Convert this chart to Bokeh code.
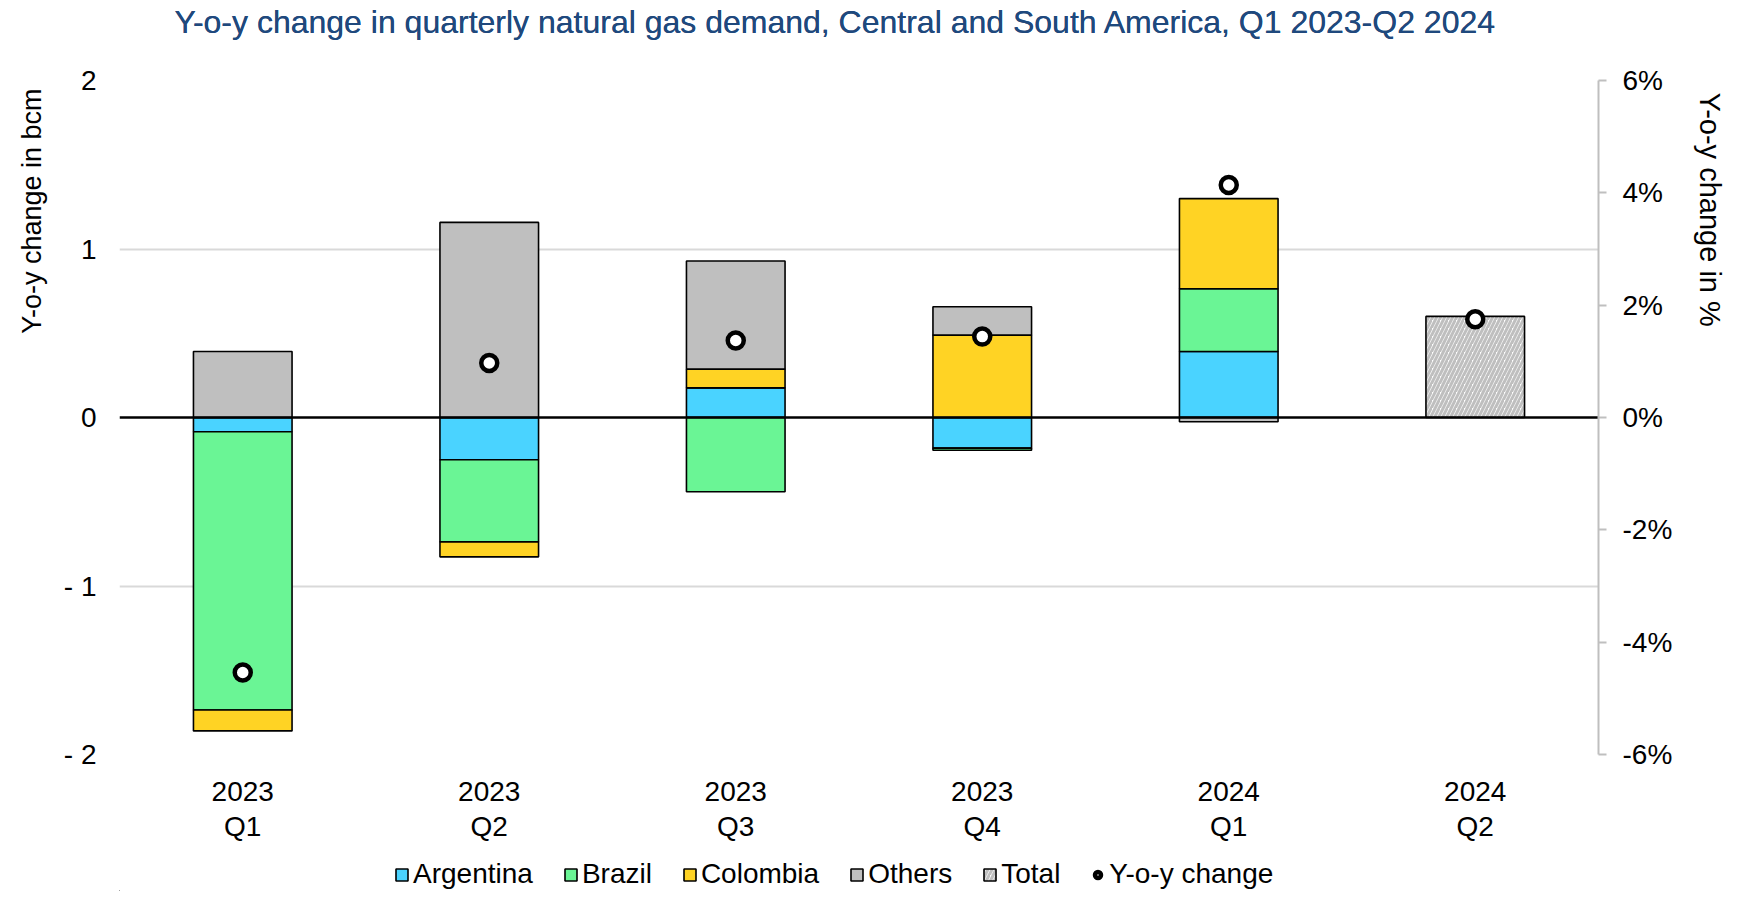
import numpy as np
from bokeh.plotting import figure
from bokeh.layouts import column
from bokeh.models import (Range1d, FactorRange, LinearAxis, FixedTicker, Span,
                          Title, Legend, LegendItem, ColumnDataSource)
from bokeh.embed import file_html
from bokeh.resources import INLINE

# ---------------- data ----------------
quarters = ["2023\nQ1", "2023\nQ2", "2023\nQ3", "2023\nQ4", "2024\nQ1", "2024\nQ2"]
argentina = [-0.085, -0.251, 0.176, -0.182, 0.392, None]
brazil = [-1.651, -0.487, -0.441, -0.012, 0.372, None]
colombia = [-0.124, -0.089, 0.111, 0.489, 0.535, None]
others = [0.392, 1.158, 0.642, 0.168, -0.025, None]
total = [None, None, None, None, None, 0.60]
yoy_pct = [-4.54, 0.97, 1.37, 1.44, 4.14, 1.75]

left_ticks = [-2, -1, 0, 1, 2]
left_tick_labels = ["- 2", "- 1", "0", "1", "2"]
right_ticks = [-6, -4, -2, 0, 2, 4, 6]
right_tick_labels = ["-6%", "-4%", "-2%", "0%", "2%", "4%", "6%"]

title_text = "Y-o-y change in quarterly natural gas demand, Central and South America, Q1 2023-Q2 2024"
left_title = "Y-o-y change in bcm"
right_title = "Y-o-y change in %"
FONT = "Liberation Sans"

COLORS = {"Argentina": "#4AD3FF", "Brazil": "#6AF595", "Colombia": "#FFD324", "Others": "#BFBFBF"}
BAR_LINE = dict(line_color="black", line_width=1.6)
HATCH = dict(fill_color="white", hatch_pattern="right_diagonal_line", hatch_color="#BFBFBF",
             hatch_weight=3, hatch_scale=8)
DOT = dict(fill_color="white", line_color="black", line_width=4.5)

# ---------------- main figure ----------------
p = figure(x_range=FactorRange(*quarters), y_range=Range1d(-2, 2),
           frame_width=1479, frame_height=674,
           min_border_left=0, min_border_right=0, min_border_top=0, min_border_bottom=0,
           output_backend="svg", toolbar_location=None, tools="")
p.outline_line_color = None
p.background_fill_color = "white"
p.extra_y_ranges = {"pct": Range1d(-6, 6)}

# title (with an invisible spacer between it and the frame)
p.title.text = title_text
p.title.align = "left"
p.title.offset = 55
p.title.text_font = FONT
p.title.text_font_size = "32px"
p.title.text_font_style = "normal"
p.title.text_color = "#1F497D"
p.title.standoff = 2
top_spacer = Title(text=".", text_font_size="1px", standoff=28, text_alpha=0, text_color="white")
p.above = [top_spacer, p.title]

# grid
p.xgrid.grid_line_color = None
p.ygrid.ticker = FixedTicker(ticks=[-2, -1, 1, 2])
p.ygrid.grid_line_color = "#D9D9D9"
p.ygrid.grid_line_width = 2

# left axis
yax = p.yaxis[0]
yax.ticker = FixedTicker(ticks=left_ticks)
yax.major_label_overrides = {t: l for t, l in zip(left_ticks, left_tick_labels)}
yax.axis_line_color = None
yax.major_tick_line_color = None
yax.minor_tick_line_color = None
yax.major_label_standoff = 17
yax.major_label_text_font = FONT
yax.major_label_text_font_size = "28px"
yax.major_label_text_color = "#000000"

# x axis (two-line category labels)
xax = p.xaxis[0]
xax.axis_line_color = None
xax.major_tick_line_color = None
xax.major_label_standoff = 15
xax.major_label_text_font = FONT
xax.major_label_text_font_size = "28px"
xax.major_label_text_color = "#000000"
xax.major_label_text_line_height = 1.15

# right axis
rax = LinearAxis(y_range_name="pct", ticker=FixedTicker(ticks=right_ticks))
rax.major_label_overrides = {t: l for t, l in zip(right_ticks, right_tick_labels)}
rax.axis_line_color = "#BFBFBF"
rax.axis_line_width = 2
rax.major_tick_line_color = "#BFBFBF"
rax.major_tick_line_width = 2
rax.major_tick_in = 0
rax.major_tick_out = 8
rax.minor_tick_line_color = None
rax.major_label_standoff = 16
rax.major_label_text_font = FONT
rax.major_label_text_font_size = "28px"
rax.major_label_text_color = "#000000"
p.add_layout(rax, "right")

# axis titles, aligned near the top of the plot area
lt = Title(text=left_title, align="right", offset=8, standoff=28,
           text_font=FONT, text_font_size="27px", text_font_style="normal", text_color="#000000")
p.add_layout(lt, "left")
rt = Title(text=right_title, align="left", offset=12, standoff=36,
           text_font=FONT, text_font_size="29px", text_font_style="normal", text_color="#000000")
p.add_layout(rt, "right")

# ---------------- stacked bars ----------------
def to_arr(vals):
    return np.array([np.nan if v is None else v for v in vals], dtype=float)

series = [("Argentina", argentina), ("Brazil", brazil), ("Colombia", colombia), ("Others", others)]

pos = np.zeros(len(quarters))
neg = np.zeros(len(quarters))
for name, vals in series:
    v = to_arr(vals)
    valid = ~np.isnan(v)
    isneg = valid & (v < 0)
    bottom = np.where(isneg, neg, pos)
    top = bottom + np.nan_to_num(v)
    pos = np.where(valid & ~isneg, top, pos)
    neg = np.where(isneg, top, neg)
    src = ColumnDataSource(dict(
        x=[q for q, ok in zip(quarters, valid) if ok],
        bottom=list(bottom[valid]), top=list(top[valid])))
    p.vbar(x="x", bottom="bottom", top="top", width=0.4, source=src,
           fill_color=COLORS[name], **BAR_LINE)

tv = to_arr(total)
tvalid = ~np.isnan(tv)
tsrc = ColumnDataSource(dict(x=[q for q, ok in zip(quarters, tvalid) if ok],
                             top=list(tv[tvalid])))
p.vbar(x="x", bottom=0, top="top", width=0.4, source=tsrc, **BAR_LINE, **HATCH)

zero = Span(location=0, dimension="width", line_color="black", line_width=2.5, level="glyph")
p.add_layout(zero)

dsrc = ColumnDataSource(dict(x=quarters, y=yoy_pct))
p.scatter(x="x", y="y", source=dsrc, y_range_name="pct", size=16, **DOT)

# ---------------- legend strip (separate figure below) ----------------
# proxy glyphs sit outside the visible range; they only provide legend swatches
lf = figure(width=1733, height=46, x_range=Range1d(0, 1), y_range=Range1d(0, 1),
            min_border=0, x_axis_type=None, y_axis_type=None,
            output_backend="svg", toolbar_location=None, tools="")
lf.outline_line_color = None
lf.xgrid.visible = False
lf.ygrid.visible = False
items = []
for name, _ in series:
    r = lf.vbar(x=[-5], bottom=[-6], top=[-5], width=0.4, fill_color=COLORS[name], **BAR_LINE)
    items.append(LegendItem(label=name, renderers=[r]))
r = lf.vbar(x=[-5], bottom=[-6], top=[-5], width=0.4, **BAR_LINE, **HATCH)
items.append(LegendItem(label="Total", renderers=[r]))
r = lf.scatter(x=[-5], y=[-5], size=16, **DOT)
items.append(LegendItem(label="Y-o-y change", renderers=[r]))

legend = Legend(items=items, orientation="horizontal", location=(275, 1),
                glyph_width=15, glyph_height=15, label_standoff=4, spacing=30,
                padding=0, margin=0, border_line_color=None, background_fill_alpha=0,
                label_text_font=FONT, label_text_font_size="28px", label_text_color="#000000")
lf.add_layout(legend, "center")

layout = column(p, lf, spacing=0)
open("out.html", "w").write(file_html(layout, INLINE))
